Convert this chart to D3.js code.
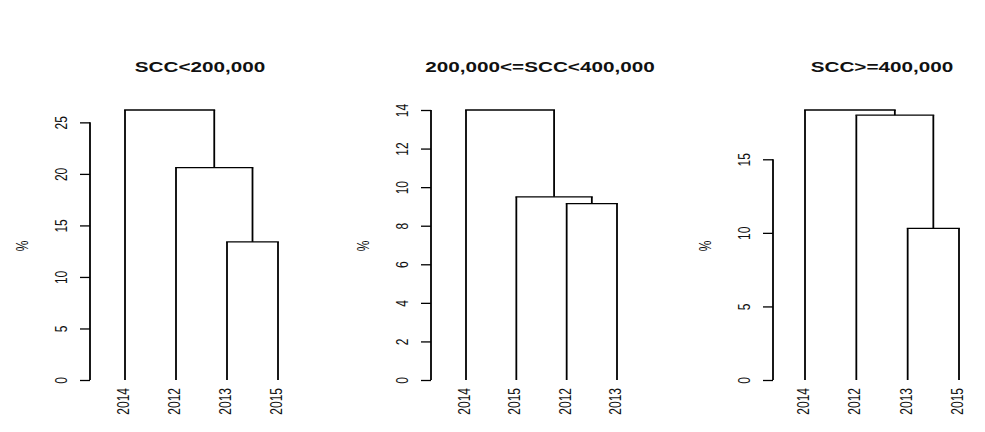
<!DOCTYPE html>
<html>
<head>
<meta charset="utf-8">
<script src="https://cdn.jsdelivr.net/npm/d3@7"></script>
<style>
  body { margin: 0; background: #fff; }
  text { font-family: "Liberation Sans", Arial, sans-serif; fill: #111; }
</style>
</head>
<body>
<div id="chart"></div>
<script>
// Panel titles
const titles = ["SCC<200,000", "200,000<=SCC<400,000", "SCC>=400,000"];

// Leaf order (left to right) in each dendrogram
const leaves1 = ["2014", "2012", "2013", "2015"];
const leaves2 = ["2014", "2015", "2012", "2013"];
const leaves3 = ["2014", "2012", "2013", "2015"];

// Merges: [left child, right child, height]; child is a leaf label or an earlier merge index
const merges1 = [["2013", "2015", 13.4], ["2012", 0, 20.6], ["2014", 1, 26.2]];
const merges2 = [["2012", "2013", 9.15], ["2015", 0, 9.5], ["2014", 1, 14.0]];
const merges3 = [["2013", "2015", 10.3], ["2012", 0, 18.0], ["2014", 1, 18.35]];

// Y axis ticks
const ticks1 = [0, 5, 10, 15, 20, 25];
const ticks2 = [0, 2, 4, 6, 8, 10, 12, 14];
const ticks3 = [0, 5, 10, 15];

const yLabel = "%";

const width = 985;
const height = 432;
const sx = 1.38; // the original picture is stretched sideways

const panels = [
    { title: titles[0], leaves: leaves1, merges: merges1, ticks: ticks1, axisX: 90, x0: 125, x1: 278, titleX: 200 },
    { title: titles[1], leaves: leaves2, merges: merges2, ticks: ticks2, axisX: 431, x0: 466, x1: 617, titleX: 540 },
    { title: titles[2], leaves: leaves3, merges: merges3, ticks: ticks3, axisX: 773, x0: 805, x1: 959, titleX: 882 }
];

const svg = d3.select("#chart")
    .append("svg")
    .attr("width", width)
    .attr("height", height);

panels.forEach(p => {
    const g = svg.append("g");

    const xScale = d3.scalePoint()
        .domain(p.leaves)
        .range([p.x0, p.x1]);

    const yScale = d3.scaleLinear()
        .domain([0, d3.max(p.merges, m => m[2])])
        .range([380, 110]);

    // Position of a child (leaf or merge)
    const pos = [];
    const childPos = c => typeof c === "number" ? pos[c] : { x: xScale(c), h: 0 };
    p.merges.forEach(m => {
        const a = childPos(m[0]);
        const b = childPos(m[1]);
        pos.push({ x: (a.x + b.x) / 2, h: m[2] });

        // left and right legs
        [a, b].forEach(c => {
            g.append("line")
                .attr("x1", c.x).attr("x2", c.x)
                .attr("y1", yScale(c.h)).attr("y2", yScale(m[2]))
                .attr("stroke", "#000")
                .attr("stroke-width", 1.8);
        });
        // cross bar
        g.append("line")
            .attr("x1", a.x - 0.9).attr("x2", b.x + 0.9)
            .attr("y1", yScale(m[2])).attr("y2", yScale(m[2]))
            .attr("stroke", "#000")
            .attr("stroke-width", 1.3);
    });

    // Y axis
    const axis = g.append("g")
        .attr("transform", `translate(${p.axisX}, 0)`)
        .call(d3.axisLeft(yScale).tickValues(p.ticks).tickSize(10).tickFormat(d3.format("d")));
    axis.select(".domain")
        .attr("stroke", "#000")
        .attr("stroke-width", 1.8)
        .attr("d", `M0,${yScale(p.ticks[0])}V${yScale(p.ticks[p.ticks.length - 1])}`);
    axis.selectAll(".tick line")
        .attr("stroke", "#000")
        .attr("stroke-width", 1.3);
    axis.selectAll(".tick text")
        .attr("x", null).attr("dy", null)
        .attr("text-anchor", "middle")
        .attr("transform", `translate(-23, 0) scale(${sx}, 1) rotate(-90)`)
        .style("font-size", "12px")
        .style("font-family", "'Liberation Sans', Arial, sans-serif")
        .attr("fill", "#111");

    // Leaf labels
    g.selectAll(".leaf")
        .data(p.leaves)
        .enter().append("text")
        .attr("class", "leaf")
        .attr("text-anchor", "end")
        .attr("transform", d => `translate(${xScale(d) + 4}, 388) scale(1.3, 1) rotate(-90)`)
        .style("font-size", "12px")
        .text(d => d);

    // Y label
    g.append("text")
        .attr("text-anchor", "middle")
        .attr("transform", `translate(${p.axisX - 62}, 246) scale(1.3, 1) rotate(-90)`)
        .style("font-size", "12px")
        .text(yLabel);

    // Title
    g.append("text")
        .attr("text-anchor", "middle")
        .attr("transform", `translate(${p.titleX}, 72) scale(${sx}, 1)`)
        .style("font-size", "15px")
        .style("font-weight", "bold")
        .text(p.title);
});
</script>
</body>
</html>
